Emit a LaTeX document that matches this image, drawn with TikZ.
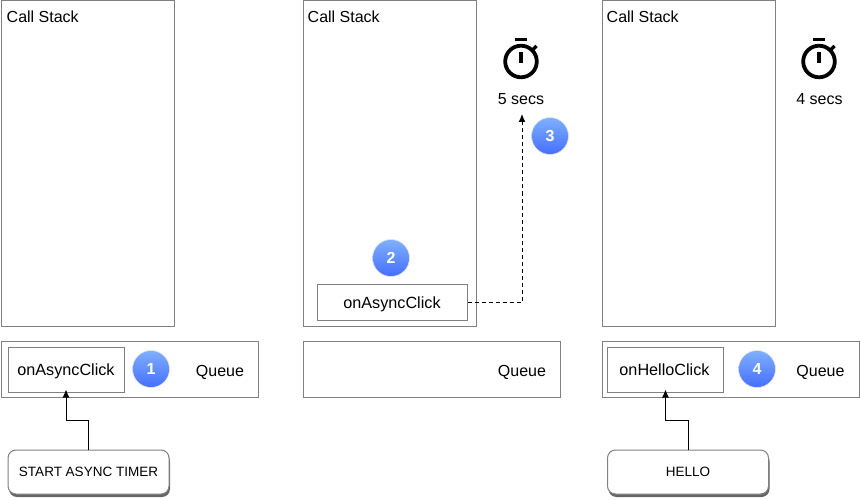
\documentclass[tikz,border=0pt]{standalone}
\usepackage{fontspec}
\setmainfont{Liberation Sans}
\usetikzlibrary{arrows.meta,shadows,positioning}
\definecolor{edgegray}{RGB}{128,128,128}
\definecolor{badgetop}{RGB}{126,176,255}
\definecolor{badgebot}{RGB}{70,110,255}
\tikzset{
  x=1pt,y=-1pt,
  panel/.style={draw=edgegray,line width=1pt,fill=white,inner sep=0pt},
  plain/.style={font=\fontsize{16}{18}\selectfont,inner sep=0pt,text height=14pt,text depth=3pt},
  handler/.style={draw=edgegray,line width=1pt,fill=white,inner sep=0pt,minimum height=45pt,minimum width=116pt,font=\fontsize{16.2}{18}\selectfont,text height=15.5pt,text depth=3pt},
  button/.style={draw=edgegray,line width=1pt,fill=white,rounded corners=8pt,inner sep=0pt,minimum width=161pt,minimum height=44pt,font=\fontsize{13.5}{16}\selectfont,text height=12.5pt,text depth=3pt,
    general shadow={shadow xshift=1pt,shadow yshift=-3pt,fill=black,opacity=.6}},
  badge/.style={circle,draw=black!10,line width=.6pt,top color=badgetop,bottom color=badgebot,minimum size=37pt,inner sep=0pt,text=white,font=\fontsize{16}{18}\selectfont\bfseries},
  flow/.style={-{Latex[length=8pt,width=7pt]},line width=1pt,black},
  dflow/.style={flow,dash pattern=on 4pt off 3pt},
  watchline/.style={line width=3.8pt,black}
}
\newcommand{\stopwatch}[1]{%
  \begin{scope}[shift={(#1,61.5)}]
    \draw[watchline] (0,0) circle[radius=15.8pt];
    \draw[watchline,line cap=butt] (-6,-22) -- (6,-22);
    \draw[watchline,line cap=butt] (0,-9) -- (0,1.5);
    \draw[watchline,line width=3.4pt] (11.5,-11.5) -- (15.5,-15.5);
  \end{scope}}
\begin{document}
\begin{tikzpicture}
\useasboundingbox (0,0) rectangle (860,500);
\fill[white] (0,0) rectangle (860,500);

% Panel 1
\node[panel,minimum width=173pt,minimum height=325pt] (stackA) at (88,163.5) {};
\node[plain,anchor=base west] (stackAt) at (6.5,23) {Call Stack};
\node[panel,minimum width=257pt,minimum height=56pt] (queueA) at (130,369.5) {};
\node[handler] (clickA) at (66,369.5) {onAsyncClick};
\node[badge] (one) at (151,369) {1};
\node[plain] (queueAt) at (220,370.5) {Queue};
\node[button] (start) at (88.5,472) {START ASYNC TIMER};
\draw[flow,shorten >=-3pt] (start.north) -- ++(0,-29) -| (clickA.south);

% Panel 2
\node[panel,minimum width=173pt,minimum height=325pt] (stackB) at (389.5,163.5) {};
\node[plain,anchor=base west] (stackBt) at (307.5,23) {Call Stack};
\node[panel,minimum width=257pt,minimum height=56pt] (queueB) at (431.5,369.5) {};
\node[plain] (queueBt) at (522,370.5) {Queue};
\node[handler,minimum width=150pt,minimum height=36pt] (clickB) at (392,302) {onAsyncClick};
\node[badge] (two) at (391,258) {2};
\stopwatch{521}
\node[plain] (secsB) at (521,99.5) {5 secs};
\node[badge] (three) at (550,136) {3};
\coordinate (timerB) at (522,114);
\draw[dflow] (clickB.east) -| (timerB);

% Panel 3
\node[panel,minimum width=173pt,minimum height=325pt] (stackC) at (688.5,163.5) {};
\node[plain,anchor=base west] (stackCt) at (606.5,23) {Call Stack};
\node[panel,minimum width=257pt,minimum height=56pt] (queueC) at (730.5,369.5) {};
\node[handler] (clickC) at (665.5,369.5) {\kern-2pt onHelloClick};
\node[badge] (four) at (757,369) {4};
\node[plain] (queueCt) at (820.5,370.5) {Queue};
\node[button] (hello) at (688,472) {HELLO};
\draw[flow,shorten >=-3pt] (hello.north) -- ++(0,-29) -| (clickC.south);
\stopwatch{819}
\node[plain] (secsC) at (819.5,99.5) {4 secs};
\end{tikzpicture}
\end{document}
